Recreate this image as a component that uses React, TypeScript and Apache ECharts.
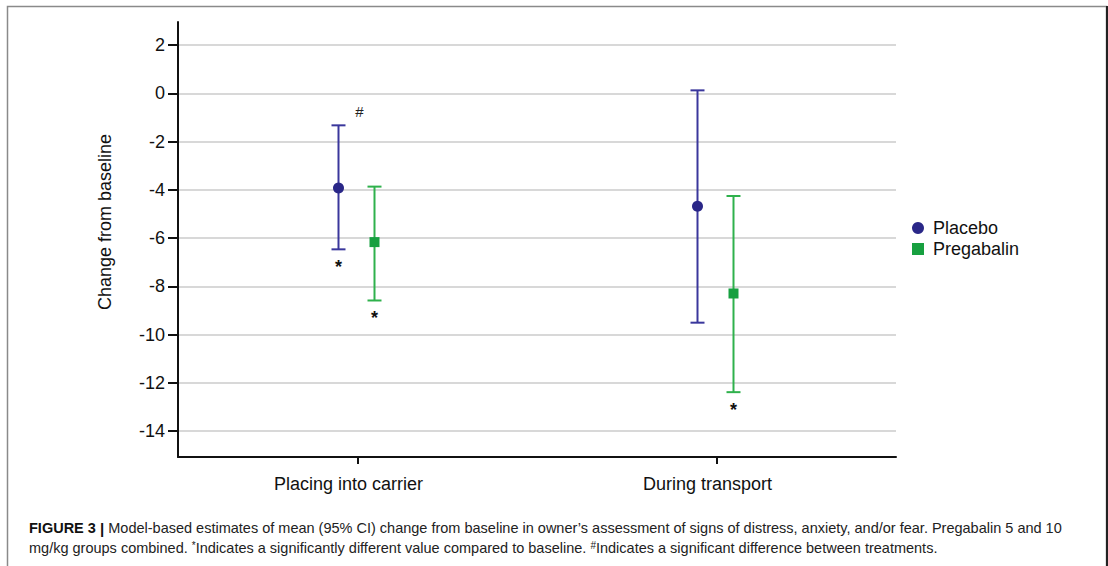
import React, { useEffect, useRef } from "react";
import * as echarts from "echarts";

const categories = ["Placing into carrier", "During transport"];
const seriesNames = ["Placebo", "Pregabalin"];
const placeboMean = [-3.93, -4.68];
const placeboLower = [-6.47, -9.51];
const placeboUpper = [-1.33, 0.12];
const pregabalinMean = [-6.17, -8.3];
const pregabalinLower = [-8.59, -12.39];
const pregabalinUpper = [-3.87, -4.26];
const placeboVsBaseline = ["*", ""];
const pregabalinVsBaseline = ["*", "*"];
const betweenTreatments = ["#", ""];
const yTickMin = -14;
const yTickMax = 2;
const yAxisMin = -15;
const yAxisMax = 3;
const yAxisTitle = "Change from baseline";

const captionLine1 =
  "Model-based estimates of mean (95% CI) change from baseline in owner\u2019s assessment of signs of distress, anxiety, and/or fear. Pregabalin 5 and 10";
const captionLine2a = "mg/kg groups combined. ";
const captionLine2b = "Indicates a significantly different value compared to baseline. ";
const captionLine2c = "Indicates a significant difference between treatments.";

const FONT = "'Liberation Sans', Arial, Helvetica, sans-serif";
const PLACEBO_LINE = "#3a379c";
const PLACEBO_MARK = "#2a2788";
const PREG_LINE = "#2fb14c";
const PREG_MARK = "#17a040";

function makeRender(
  mean: number[],
  lower: number[],
  upper: number[],
  stars: string[],
  hashes: string[] | null,
  offset: number,
  lineColor: string,
  markColor: string,
  shape: "circle" | "square"
) {
  return (params: any, api: any) => {
    const i = params.dataIndex;
    const ci = api.value(0);
    const pm = api.coord([ci, mean[i]]);
    const x = pm[0] + offset;
    const yM = pm[1];
    const yHi = api.coord([ci, upper[i]])[1];
    const yLo = api.coord([ci, lower[i]])[1];
    const cap = 7;
    const ls = { stroke: lineColor, lineWidth: 2 };
    const children: any[] = [
      { type: "line", shape: { x1: x, y1: yHi, x2: x, y2: yLo }, style: ls },
      { type: "line", shape: { x1: x - cap, y1: yHi, x2: x + cap, y2: yHi }, style: ls },
      { type: "line", shape: { x1: x - cap, y1: yLo, x2: x + cap, y2: yLo }, style: ls },
    ];
    if (shape === "circle") {
      children.push({ type: "circle", shape: { cx: x, cy: yM, r: 5.5 }, style: { fill: markColor } });
    } else {
      children.push({ type: "rect", shape: { x: x - 5, y: yM - 5, width: 10, height: 10 }, style: { fill: markColor } });
    }
    if (stars[i]) {
      children.push({
        type: "text",
        x: x,
        y: yLo + 18,
        style: { text: stars[i], fill: "#111", font: `bold 18px ${FONT}`, align: "center", verticalAlign: "middle" },
      });
    }
    if (hashes && hashes[i]) {
      children.push({
        type: "text",
        x: x + 21,
        y: yHi - 14,
        style: { text: hashes[i], fill: "#222", font: `15px ${FONT}`, align: "center", verticalAlign: "middle" },
      });
    }
    return { type: "group", children };
  };
}

export default function App() {
  const ref = useRef<HTMLDivElement>(null);
  useEffect(() => {
    if (!ref.current) return;
    const chart = echarts.init(ref.current, null, { renderer: "svg" });
    const gridLeft = 178;
    const gridWidth = 718;
    const option: any = {
      animation: false,
      backgroundColor: "#fff",
      grid: [
        { left: gridLeft, top: 22, width: gridWidth, height: 435 },
        { left: gridLeft, top: 45, width: gridWidth, height: 386 },
      ],
      xAxis: [
        {
          type: "category",
          gridIndex: 0,
          data: categories,
          axisLine: { onZero: false, lineStyle: { color: "#111", width: 2 } },
          axisTick: { show: true, alignWithLabel: true, length: 7, lineStyle: { color: "#111", width: 2 } },
          axisLabel: { color: "#111", fontSize: 18, fontFamily: FONT, margin: 18, padding: [0, 18, 0, 0] },
          splitLine: { show: false },
        },
        {
          type: "category",
          gridIndex: 1,
          data: categories,
          show: false,
        },
      ],
      yAxis: [
        {
          type: "value",
          gridIndex: 0,
          min: yAxisMin,
          max: yAxisMax,
          axisLine: { show: true, onZero: false, lineStyle: { color: "#111", width: 2 } },
          axisTick: { show: false },
          axisLabel: { show: false },
          splitLine: { show: false },
        },
        {
          type: "value",
          gridIndex: 1,
          min: yTickMin,
          max: yTickMax,
          interval: 2,
          axisLine: { show: false },
          axisTick: { show: true, length: 10, lineStyle: { color: "#111", width: 2 } },
          axisLabel: { color: "#111", fontSize: 18, fontFamily: FONT, margin: 13 },
          splitLine: { show: true, lineStyle: { color: "#d8d8d8", width: 2 } },
        },
      ],
      legend: {
        orient: "vertical",
        left: 907,
        top: 214,
        itemWidth: 12,
        itemHeight: 12,
        itemGap: 3,
        textStyle: { color: "#111", fontSize: 18, fontFamily: FONT, padding: [0, 0, 0, 4] },
        data: [
          { name: seriesNames[0], icon: "circle", itemStyle: { color: PLACEBO_MARK } },
          { name: seriesNames[1], icon: "rect", itemStyle: { color: PREG_MARK } },
        ],
      },
      series: [
        {
          name: seriesNames[0],
          type: "custom",
          xAxisIndex: 1,
          yAxisIndex: 1,
          itemStyle: { color: PLACEBO_MARK },
          renderItem: makeRender(placeboMean, placeboLower, placeboUpper, placeboVsBaseline, betweenTreatments, -19, PLACEBO_LINE, PLACEBO_MARK, "circle"),
          data: categories.map((_, i) => [i, placeboMean[i], placeboLower[i], placeboUpper[i]]),
          clip: false,
        },
        {
          name: seriesNames[1],
          type: "custom",
          xAxisIndex: 1,
          yAxisIndex: 1,
          itemStyle: { color: PREG_MARK },
          renderItem: makeRender(pregabalinMean, pregabalinLower, pregabalinUpper, pregabalinVsBaseline, null, 17, PREG_LINE, PREG_MARK, "square"),
          data: categories.map((_, i) => [i, pregabalinMean[i], pregabalinLower[i], pregabalinUpper[i]]),
          clip: false,
        },
      ],
      graphic: [
        {
          type: "rect",
          shape: { x: 7.5, y: 6.5, width: 1099, height: 620 },
          style: { fill: "none", stroke: "#8a8a8a", lineWidth: 1.5 },
          silent: true,
        },
        {
          type: "line",
          shape: { x1: 1107, y1: 6, x2: 1107, y2: 566 },
          style: { stroke: "#222", lineWidth: 2 },
          silent: true,
        },
        {
          type: "text",
          x: 105,
          y: 222,
          rotation: Math.PI / 2,
          style: {
            text: yAxisTitle,
            font: `18px ${FONT}`,
            fill: "#111",
            align: "center",
            verticalAlign: "middle",
          },
        },
        {
          type: "text",
          x: 29,
          y: 528,
          style: {
            text: `{b|FIGURE 3} {bar|| }${captionLine1}`,
            font: `14.5px ${FONT}`,
            fill: "#222",
            verticalAlign: "middle",
            rich: {
              b: { font: `bold 14.5px ${FONT}`, fill: "#111" },
              bar: { font: `bold 15px ${FONT}`, fill: "#111" },
            },
          },
        },
        {
          type: "text",
          x: 29,
          y: 548,
          style: {
            text: `${captionLine2a}{sup|*}${captionLine2b}{sup|#}${captionLine2c}`,
            font: `14.5px ${FONT}`,
            fill: "#222",
            verticalAlign: "middle",
            rich: {
              sup: { font: `10px ${FONT}`, fill: "#222", verticalAlign: "top" },
            },
          },
        },
      ],
    };
    chart.setOption(option);
    return () => chart.dispose();
  }, []);
  return (
    <div
      ref={ref}
      style={{ position: "fixed", left: 0, top: 0, width: 1108, height: 566, background: "#fff" }}
    />
  );
}
